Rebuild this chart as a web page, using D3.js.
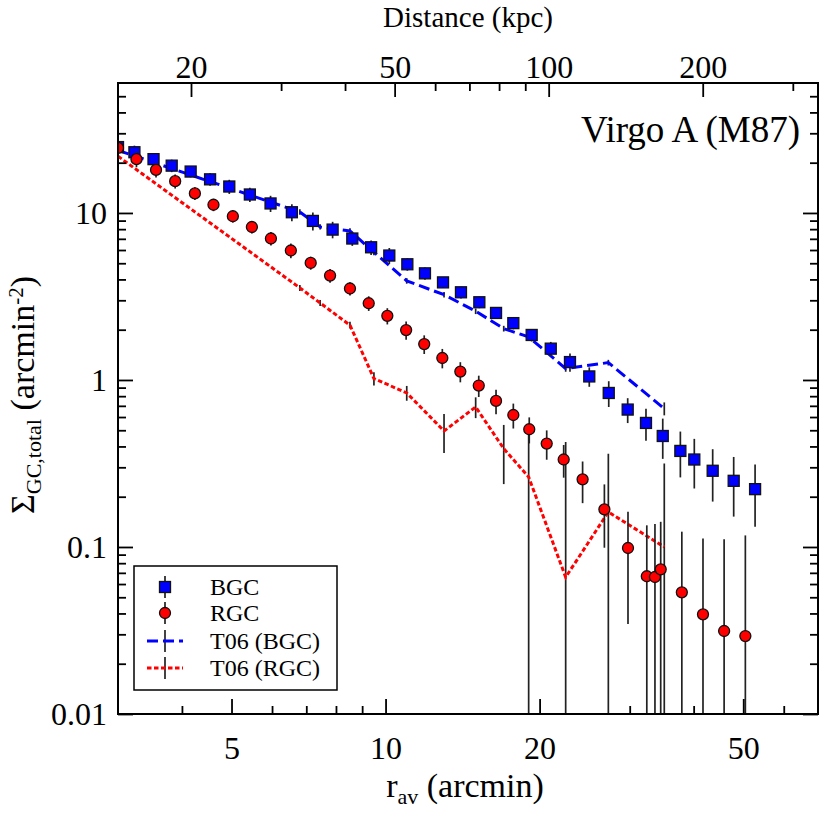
<!DOCTYPE html>
<html>
<head>
<meta charset="utf-8">
<script src="https://cdn.jsdelivr.net/npm/d3@7"></script>
<style>
body{margin:0;background:#fff;}
</style>
</head>
<body>
<svg id="chart" width="830" height="833" font-family="Liberation Serif"></svg>
<script>
// BGC profile (r in arcmin, surface density in arcmin^-2)
var bgcR=[3.00,3.23,3.52,3.82,4.16,4.54,4.95,5.43,5.96,6.56,7.21,7.88,8.61,9.37,10.17,11.03,11.94,12.95,14.04,15.25,16.44,17.77,19.30,21.03,22.93,25.01,27.30,29.73,32.28,34.81,37.68,40.12,43.58,47.90,52.74];
var bgcV=[24.8,23.1,21.0,19.2,17.7,15.9,14.4,12.9,11.4,10.1,8.96,7.95,7.03,6.23,5.56,4.93,4.35,3.84,3.35,2.92,2.52,2.19,1.86,1.54,1.28,1.05,0.836,0.665,0.553,0.462,0.376,0.334,0.286,0.249,0.222];
var bgcErr=[2.5,2.2,1.6,1.65,1.35,1.37,1.4,1.27,1.27,1.17,1.1,0.9,0.68,0.62,0.61,0.42,0.37,0.29,0.27,0.23,0.2,0.18,0.16,0.15,0.16,0.14,0.147,0.113,0.12,0.125,0.115,0.11,0.099,0.097,0.09];

// RGC profile
var rgcR=[3.00,3.26,3.56,3.88,4.24,4.61,5.03,5.48,5.97,6.53,7.14,7.79,8.52,9.27,10.08,10.97,11.90,12.91,14.00,15.21,16.44,17.77,19.09,20.65,22.29,24.27,26.77,29.77,32.40,33.61,34.49,37.93,41.72,45.88,50.48];
var rgcV=[24.5,21.0,18.1,15.5,13.1,11.2,9.56,8.24,7.03,5.96,5.02,4.22,3.53,2.88,2.42,1.99,1.64,1.354,1.123,0.926,0.749,0.617,0.507,0.416,0.334,0.254,0.168,0.0986,0.0668,0.0661,0.0735,0.0535,0.0395,0.0314,0.0293];
var rgcErr=[2.5,2.2,1.8,1.5,1.15,0.95,0.8,0.7,0.65,0.6,0.45,0.4,0.32,0.29,0.27,0.25,0.21,0.18,0.155,0.135,0.125,0.105,0.09,0.083,0.074,0.071,0.069,0.064,0.068,0.071,0.068,0.07,0.073,0.08,0.088];

// T06 profiles
var t06R=[3.0,6.80,7.45,8.52,9.49,11.0,13.01,15.0,17.02,19.04,22.49,27.25,35.05];
var t06bV=[23.7,10.14,8.25,7.80,5.83,3.92,3.24,2.58,2.03,1.81,1.17,1.27,0.674];
var t06bErr=[1.0,0.4,0.3,0.3,0.25,0.15,0.12,0.1,0.08,0.07,0.05,0.05,0.06];
var t06rV=[21.85,3.56,2.89,2.13,1.02,0.836,0.495,0.689,0.388,0.2625,0.0659,0.162,0.1];
var t06rErr=[1.0,0.15,0.12,0.1,0.093,0.085,0.13,0.098,0.15,0.27,0.36,0.2,0.216];

// ticks
var xMajor=[5,10,20,50];
var xMinor=[4,6,7,8,9,30,40,60];
var kpcMajor=[20,50,100,200];
var kpcMinor=[30,40,60,70,80,90,300];
var yMajor=[0.01,0.1,1,10];
var yMinor=[];
[0.01,0.1,1].forEach(function(d){for(var k=2;k<10;k++){yMinor.push(+(d*k).toPrecision(3));}});
yMinor=yMinor.concat([20,30,40,50]);

var legendNames=["BGC","RGC","T06 (BGC)","T06 (RGC)"];
var kpcPerArcmin=4.8;
var FONT="Liberation Serif";

function pack(r,v,e){
  return r.map(function(d,i){return {r:d,v:v[i],e:e[i]};});
}

function go(){
  var left=118,right=818,top=83,bot=714;
  var svg=d3.select("#chart");

  var x=d3.scaleLog().domain([3,70]).range([left,right]);
  var xTop=d3.scaleLog().domain([3*kpcPerArcmin,70*kpcPerArcmin]).range([left,right]);
  var y=d3.scaleLog().domain([0.01,60]).range([bot,top]);

  svg.append("defs").append("clipPath").attr("id","plotclip")
     .append("rect").attr("x",left).attr("y",top).attr("width",right-left).attr("height",bot-top);

  var plot=svg.append("g").attr("clip-path","url(#plotclip)");

  function errY(d,hi){
    if(hi){return y(d.v+d.e);}
    var lo=d.v-d.e;
    return lo>0 ? y(lo) : bot+20;
  }

  function drawErrors(data){
    plot.append("g").selectAll("line").data(data).enter().append("line")
        .attr("x1",function(d){return x(d.r);})
        .attr("x2",function(d){return x(d.r);})
        .attr("y1",function(d){return errY(d,true);})
        .attr("y2",function(d){return errY(d,false);})
        .attr("stroke","#222").attr("stroke-width",1.7);
  }

  var t06b=pack(t06R,t06bV,t06bErr);
  var t06r=pack(t06R,t06rV,t06rErr);
  var bgc=pack(bgcR,bgcV,bgcErr);
  var rgc=pack(rgcR,rgcV,rgcErr);

  var lineMaker=d3.line()
                  .x(function(d){return x(d.r);})
                  .y(function(d){return y(d.v);});

  drawErrors(t06b);
  drawErrors(t06r);
  plot.append("path").attr("d",lineMaker(t06b))
      .attr("fill","none").attr("stroke","#0000ff").attr("stroke-width",3)
      .attr("stroke-dasharray","11,5");
  plot.append("path").attr("d",lineMaker(t06r))
      .attr("fill","none").attr("stroke","#ff0000").attr("stroke-width",3)
      .attr("stroke-dasharray","4.5,2.5");

  drawErrors(bgc);
  plot.append("g").selectAll("rect").data(bgc).enter().append("rect")
      .attr("x",function(d){return x(d.r)-5.5;})
      .attr("y",function(d){return y(d.v)-5.5;})
      .attr("width",11).attr("height",11)
      .attr("fill","#0000ff").attr("stroke","#111").attr("stroke-width",1.3);

  drawErrors(rgc);
  plot.append("g").selectAll("circle").data(rgc).enter().append("circle")
      .attr("cx",function(d){return x(d.r);})
      .attr("cy",function(d){return y(d.v);})
      .attr("r",5.5)
      .attr("fill","#ff0000").attr("stroke","#111").attr("stroke-width",1.3);

  // axes
  function axis(gen,vals,size,pad,labels){
    var g=svg.append("g").call(gen.tickValues(vals).tickSize(size).tickPadding(pad)
             .tickFormat(labels?d3.format("~g"):""));
    g.attr("font-family",FONT).attr("font-size",32);
    g.select(".domain").remove();
    g.selectAll("line").attr("stroke","#000").attr("stroke-width",1.8);
    g.selectAll("text").style("font-family",FONT).style("font-size","32px").attr("fill","#000");
    return g;
  }
  axis(d3.axisBottom(x),xMajor,-15,22,true).attr("transform","translate(0,"+bot+")");
  axis(d3.axisBottom(x),xMinor,-8,0,false).attr("transform","translate(0,"+bot+")");
  axis(d3.axisTop(xTop),kpcMajor,-14,5,true).attr("transform","translate(0,"+top+")");
  axis(d3.axisTop(xTop),kpcMinor,-8,0,false).attr("transform","translate(0,"+top+")");
  axis(d3.axisLeft(y),yMajor,-15,11,true).attr("transform","translate("+left+",0)");
  axis(d3.axisLeft(y),yMinor,-8,0,false).attr("transform","translate("+left+",0)");
  axis(d3.axisRight(y),yMajor,-15,0,false).attr("transform","translate("+right+",0)");
  axis(d3.axisRight(y),yMinor,-8,0,false).attr("transform","translate("+right+",0)");

  svg.append("rect").attr("x",left).attr("y",top).attr("width",right-left).attr("height",bot-top)
     .attr("fill","none").attr("stroke","#000").attr("stroke-width",2);

  // titles
  svg.append("text").attr("x",(left+right)/2).attr("y",27).attr("text-anchor","middle")
     .style("font-family",FONT).style("font-size","29px").text("Distance (kpc)");

  var xt=svg.append("text").attr("x",(left+right)/2-3).attr("y",797).attr("text-anchor","middle")
            .style("font-family",FONT).style("font-size","34px");
  xt.append("tspan").text("r");
  xt.append("tspan").attr("dy",7).style("font-size","22px").text("av");
  xt.append("tspan").attr("dy",-7).text(" (arcmin)");

  var yt=svg.append("text").attr("transform","translate(34,395) rotate(-90)")
            .attr("text-anchor","middle").style("font-family",FONT).style("font-size","34px");
  yt.append("tspan").text("\u03A3");
  yt.append("tspan").attr("dy",7).style("font-size","22px").text("GC,total");
  yt.append("tspan").attr("dy",-7).text(" (arcmin");
  yt.append("tspan").attr("dy",-11).style("font-size","21px").text("-2");
  yt.append("tspan").attr("dy",11).text(")");

  svg.append("text").attr("x",800).attr("y",142).attr("text-anchor","end")
     .style("font-family",FONT).style("font-size","37px").text("Virgo A (M87)");

  // legend
  var lg=svg.append("g");
  lg.append("rect").attr("x",134).attr("y",566).attr("width",203).attr("height",124)
    .attr("fill","#fff").attr("stroke","#000").attr("stroke-width",1.5);
  var rows=[587,613,641,668];
  rows.forEach(function(ry,i){
    lg.append("line").attr("x1",165).attr("x2",165).attr("y1",ry-11).attr("y2",ry+11)
      .attr("stroke","#222").attr("stroke-width",1.7);
    if(i===0){
      lg.append("rect").attr("x",165-5.5).attr("y",ry-5.5).attr("width",11).attr("height",11)
        .attr("fill","#0000ff").attr("stroke","#111").attr("stroke-width",1.3);
    }
    if(i===1){
      lg.append("circle").attr("cx",165).attr("cy",ry).attr("r",5.5)
        .attr("fill","#ff0000").attr("stroke","#111").attr("stroke-width",1.3);
    }
    if(i===2){
      lg.append("line").attr("x1",147).attr("x2",183).attr("y1",ry).attr("y2",ry)
        .attr("stroke","#0000ff").attr("stroke-width",3).attr("stroke-dasharray","11,5");
    }
    if(i===3){
      lg.append("line").attr("x1",147).attr("x2",183).attr("y1",ry).attr("y2",ry)
        .attr("stroke","#ff0000").attr("stroke-width",3).attr("stroke-dasharray","4.5,2.5");
    }
    lg.append("text").attr("x",210).attr("y",ry+8)
      .style("font-family",FONT).style("font-size","24px").text(legendNames[i]);
  });
}

go();
</script>
</body>
</html>
